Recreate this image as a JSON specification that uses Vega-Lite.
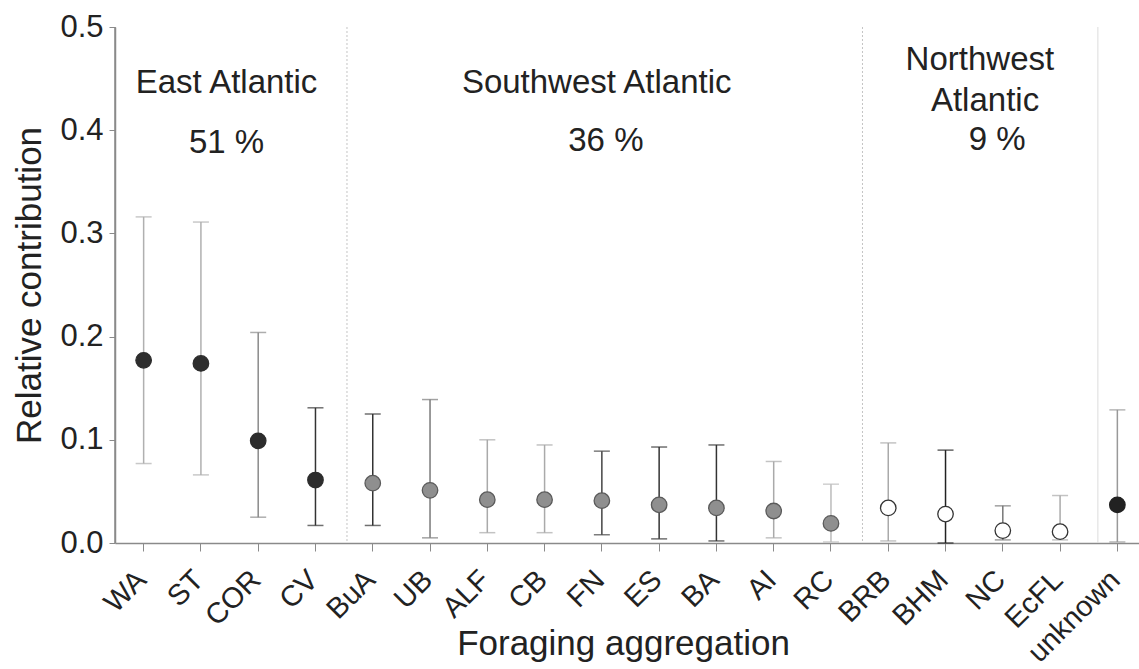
{
  "$schema": "https://vega.github.io/schema/vega-lite/v6.json",
  "autosize": "none",
  "padding": {"left": 115, "top": 27, "right": 0, "bottom": 126},
  "width": 1024,
  "height": 516,
  "data": {
    "values": [
      {"name": "WA", "region": "East", "mean": 0.177, "lo": 0.077, "hi": 0.316},
      {"name": "ST", "region": "East", "mean": 0.174, "lo": 0.066, "hi": 0.311},
      {"name": "COR", "region": "East", "mean": 0.099, "lo": 0.025, "hi": 0.204},
      {"name": "CV", "region": "East", "mean": 0.061, "lo": 0.017, "hi": 0.131},
      {"name": "BuA", "region": "Southwest", "mean": 0.058, "lo": 0.017, "hi": 0.125},
      {"name": "UB", "region": "Southwest", "mean": 0.051, "lo": 0.005, "hi": 0.139},
      {"name": "ALF", "region": "Southwest", "mean": 0.042, "lo": 0.010, "hi": 0.100},
      {"name": "CB", "region": "Southwest", "mean": 0.042, "lo": 0.010, "hi": 0.095},
      {"name": "FN", "region": "Southwest", "mean": 0.041, "lo": 0.008, "hi": 0.089},
      {"name": "ES", "region": "Southwest", "mean": 0.037, "lo": 0.004, "hi": 0.093},
      {"name": "BA", "region": "Southwest", "mean": 0.034, "lo": 0.002, "hi": 0.095},
      {"name": "AI", "region": "Southwest", "mean": 0.031, "lo": 0.005, "hi": 0.079},
      {"name": "RC", "region": "Southwest", "mean": 0.019, "lo": 0.001, "hi": 0.057},
      {"name": "BRB", "region": "Northwest", "mean": 0.034, "lo": 0.002, "hi": 0.097},
      {"name": "BHM", "region": "Northwest", "mean": 0.028, "lo": 0.0, "hi": 0.090},
      {"name": "NC", "region": "Northwest", "mean": 0.012, "lo": 0.003, "hi": 0.036},
      {"name": "EcFL", "region": "Northwest", "mean": 0.011, "lo": 0.003, "hi": 0.046},
      {"name": "unknown", "region": "Unknown", "mean": 0.037, "lo": 0.001, "hi": 0.129}
    ]
  },
  "encoding": {
    "x": {
      "field": "name",
      "type": "nominal",
      "scale": {
        "type": "band",
        "domain": ["WA", "ST", "COR", "CV", "BuA", "UB", "ALF", "CB", "FN", "ES", "BA", "AI", "RC", "BRB", "BHM", "NC", "EcFL", "unknown"],
        "range": [0, 1031],
        "paddingInner": 0,
        "paddingOuter": 0
      },
      "axis": {
        "title": "Foraging aggregation",
        "titleFont": "Liberation Sans",
        "titleFontSize": 35,
        "titleFontWeight": "normal",
        "titleColor": "#222222",
        "titleBaseline": "alphabetic",
        "titleY": 111,
        "titleX": 508,
        "labelFont": "Liberation Sans",
        "labelFontSize": 29,
        "labelColor": "#222222",
        "labelAngle": -45,
        "labelAlign": "right",
        "labelBaseline": "top",
        "labelPadding": 14,
        "labelOffset": -12,
        "tickSize": 8,
        "tickColor": "#8a8a8a",
        "domainColor": "#8a8a8a",
        "domainWidth": 1.5,
        "grid": false
      }
    },
    "y": {
      "type": "quantitative",
      "scale": {"domain": [0, 0.5], "nice": false},
      "axis": {
        "title": "Relative contribution",
        "titleFont": "Liberation Sans",
        "titleFontSize": 35,
        "titleFontWeight": "normal",
        "titleColor": "#222222",
        "titleBaseline": "alphabetic",
        "titleX": -75,
        "values": [0, 0.1, 0.2, 0.3, 0.4, 0.5],
        "format": ".1f",
        "labelFont": "Liberation Sans",
        "labelFontSize": 31,
        "labelColor": "#222222",
        "labelPadding": 6,
        "tickSize": 6,
        "tickColor": "#8a8a8a",
        "domainColor": "#8a8a8a",
        "domainWidth": 1.5,
        "grid": false
      }
    }
  },
  "layer": [
    {
      "data": {"values": [{}]},
      "mark": {"type": "rule", "color": "#8a8a8a", "strokeWidth": 1.5},
      "encoding": {"y": {"datum": 0.5}}
    },
    {
      "data": {"values": [{}]},
      "mark": {"type": "rule", "color": "#c4c4c4", "strokeWidth": 1, "strokeDash": [2, 2]},
      "encoding": {"x": {"datum": "BuA", "bandPosition": 0.05}}
    },
    {
      "data": {"values": [{}]},
      "mark": {"type": "rule", "color": "#c4c4c4", "strokeWidth": 1, "strokeDash": [2, 2]},
      "encoding": {"x": {"datum": "BRB", "bandPosition": 0.05}}
    },
    {
      "data": {"values": [{}]},
      "mark": {"type": "rule", "color": "#dcdcdc", "strokeWidth": 1},
      "encoding": {"x": {"datum": "unknown", "bandPosition": 0.16}}
    },
    {
      "mark": {"type": "rule", "strokeWidth": 1.5},
      "encoding": {
        "y": {"field": "lo"},
        "y2": {"field": "hi"},
        "color": {
          "field": "name",
          "type": "nominal",
          "legend": null,
          "scale": {
            "domain": ["WA", "ST", "COR", "CV", "BuA", "UB", "ALF", "CB", "FN", "ES", "BA", "AI", "RC", "BRB", "BHM", "NC", "EcFL", "unknown"],
            "range": ["#b0b0b0", "#b0b0b0", "#8a8a8a", "#333333", "#333333", "#7a7a7a", "#aaaaaa", "#aaaaaa", "#444444", "#333333", "#333333", "#aaaaaa", "#bbbbbb", "#aaaaaa", "#222222", "#777777", "#aaaaaa", "#999999"]
          }
        }
      }
    },
    {
      "mark": {"type": "tick", "size": 16, "thickness": 1.5},
      "encoding": {
        "y": {"field": "lo"},
        "color": {"field": "name", "type": "nominal", "legend": null}
      }
    },
    {
      "mark": {"type": "tick", "size": 16, "thickness": 1.5},
      "encoding": {
        "y": {"field": "hi"},
        "color": {"field": "name", "type": "nominal", "legend": null}
      }
    },
    {
      "mark": {"type": "point", "shape": "circle", "filled": false, "size": 240, "strokeWidth": 1.3, "opacity": 1},
      "encoding": {
        "y": {"field": "mean"},
        "fill": {
          "field": "region",
          "type": "nominal",
          "legend": null,
          "scale": {"domain": ["East", "Southwest", "Northwest", "Unknown"], "range": ["#2d2d2d", "#8f8f8f", "#ffffff", "#222222"]}
        },
        "stroke": {
          "field": "region",
          "type": "nominal",
          "legend": null,
          "scale": {"domain": ["East", "Southwest", "Northwest", "Unknown"], "range": ["#2d2d2d", "#5a5a5a", "#333333", "#222222"]}
        }
      }
    },
    {
      "data": {"values": [{}]},
      "mark": {"type": "text", "font": "Liberation Sans", "fontSize": 33, "color": "#222222", "baseline": "alphabetic", "dx": -3},
      "encoding": {"x": {"datum": "COR", "bandPosition": 0}, "y": {"datum": 0.436}, "text": {"value": "East Atlantic"}}
    },
    {
      "data": {"values": [{}]},
      "mark": {"type": "text", "font": "Liberation Sans", "fontSize": 33, "color": "#222222", "baseline": "alphabetic", "dx": -3},
      "encoding": {"x": {"datum": "COR", "bandPosition": 0}, "y": {"datum": 0.378}, "text": {"value": "51 %"}}
    },
    {
      "data": {"values": [{}]},
      "mark": {"type": "text", "font": "Liberation Sans", "fontSize": 33, "color": "#222222", "baseline": "alphabetic"},
      "encoding": {"x": {"datum": "FN", "bandPosition": 0.41}, "y": {"datum": 0.436}, "text": {"value": "Southwest Atlantic"}}
    },
    {
      "data": {"values": [{}]},
      "mark": {"type": "text", "font": "Liberation Sans", "fontSize": 33, "color": "#222222", "baseline": "alphabetic"},
      "encoding": {"x": {"datum": "FN", "bandPosition": 0.57}, "y": {"datum": 0.38}, "text": {"value": "36 %"}}
    },
    {
      "data": {"values": [{}]},
      "mark": {"type": "text", "font": "Liberation Sans", "fontSize": 33, "color": "#222222", "baseline": "alphabetic"},
      "encoding": {"x": {"datum": "NC", "bandPosition": 0.1}, "y": {"datum": 0.458}, "text": {"value": "Northwest"}}
    },
    {
      "data": {"values": [{}]},
      "mark": {"type": "text", "font": "Liberation Sans", "fontSize": 33, "color": "#222222", "baseline": "alphabetic"},
      "encoding": {"x": {"datum": "NC", "bandPosition": 0.19}, "y": {"datum": 0.419}, "text": {"value": "Atlantic"}}
    },
    {
      "data": {"values": [{}]},
      "mark": {"type": "text", "font": "Liberation Sans", "fontSize": 33, "color": "#222222", "baseline": "alphabetic"},
      "encoding": {"x": {"datum": "NC", "bandPosition": 0.4}, "y": {"datum": 0.381}, "text": {"value": "9 %"}}
    }
  ],
  "config": {"view": {"stroke": null}}
}
